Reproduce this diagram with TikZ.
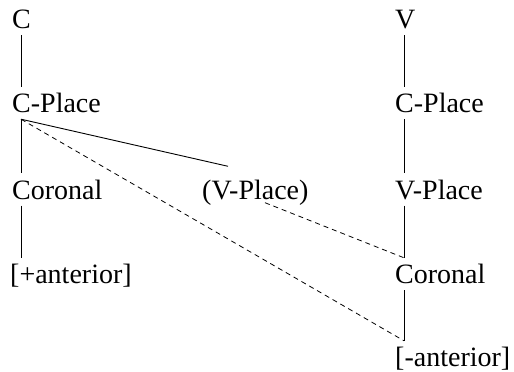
\documentclass[tikz,border=0pt]{standalone}
\usepackage{fontspec}
\setmainfont{Liberation Serif}
\begin{document}
\begin{tikzpicture}[x=1pt,y=1pt,
  lbl/.style={anchor=base west,inner xsep=0pt,inner ysep=6pt,text height=20pt,text depth=0pt,font=\fontsize{28}{34}\selectfont},
  link/.style={line width=0.9pt},
  dlink/.style={line width=0.8pt,dash pattern=on 5pt off 4pt}]
\useasboundingbox (0,0) rectangle (514,372);
% left column
\node[lbl] (C)   at (12,343) {C};
\node[lbl] (CP)  at (12,259) {C-Place};
\node[lbl] (Cor) at (12,172.5) {Coronal};
\node[lbl] (pa)  at (10,88) {[+anterior]};
\node[lbl] (VPp) at (202,172.5) {(V-Place)};
% right column
\node[lbl] (V)    at (395,343) {V};
\node[lbl] (CP2)  at (395,259) {C-Place};
\node[lbl] (VP2)  at (395,172.5) {V-Place};
\node[lbl] (Cor2) at (395,88) {Coronal};
\node[lbl] (ma)   at (395,5) {[-anterior]};
% left links
\draw[link] ([xshift=9pt]C.south west) -- ([xshift=9pt]CP.north west);
\draw[link] ([xshift=9pt]CP.south west) -- ([xshift=9pt]Cor.north west);
\draw[link] ([xshift=9pt]Cor.south west) -- ([xshift=11pt]pa.north west);
\draw[link] ([xshift=9pt]CP.south west) -- ([xshift=26pt,yshift=7pt]VPp.north west);
\draw[dlink] ([xshift=9pt]CP.south west) -- ([xshift=9pt]ma.north west);
% right links
\draw[link] ([xshift=9pt]V.south west) -- ([xshift=9pt]CP2.north west);
\draw[link] ([xshift=9pt]CP2.south west) -- ([xshift=9pt]VP2.north west);
\draw[link] ([xshift=9pt]VP2.south west) -- ([xshift=9pt]Cor2.north west);
\draw[link] ([xshift=9pt]Cor2.south west) -- ([xshift=9pt]ma.north west);
\draw[dlink] ([xshift=63pt,yshift=3pt]VPp.south west) -- ([xshift=9pt]Cor2.north west);
\end{tikzpicture}
\end{document}
